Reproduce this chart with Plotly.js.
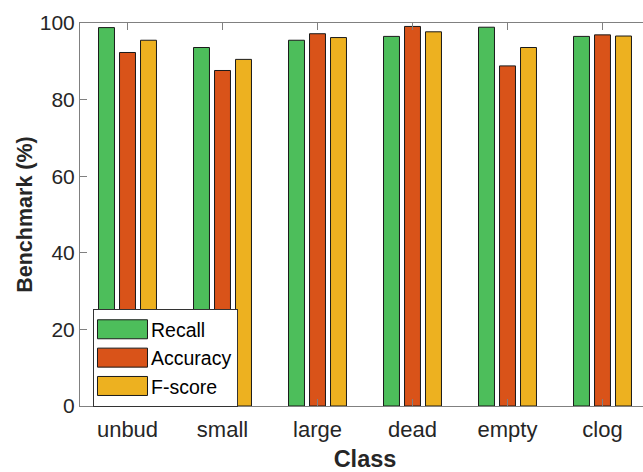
<!DOCTYPE html>
<html><head><meta charset="utf-8">
<script src="https://cdn.plot.ly/plotly-3.0.1.min.js"></script>
<style>html,body{margin:0;padding:0;overflow:hidden;background:#fff;width:643px;height:472px}</style>
</head><body><div id="chart"></div>
<script>
const categories = ["unbud", "small", "large", "dead", "empty", "clog"];
const recall   = [98.8, 93.6, 95.5, 96.5, 98.9, 96.5];
const accuracy = [92.3, 87.6, 97.2, 99.1, 88.8, 96.9];
const fscore   = [95.5, 90.5, 96.2, 97.7, 93.6, 96.6];
const seriesNames = ["Recall", "Accuracy", "F-score"];
const yTicks = [0, 20, 40, 60, 80, 100];

const colors = ["#4dbe5b", "#d95319", "#edb120"];
const vals = [recall, accuracy, fscore];
const xs = categories.map((c, i) => i + 1);
const traces = vals.map((v, k) => ({
  type: "bar", x: xs, y: v, name: seriesNames[k],
  marker: {color: colors[k], line: {color: "#1a1a1a", width: 1}}
}));
const fam = "Liberation Sans, Arial, sans-serif";
const layout = {
  width: 655, height: 472,
  margin: {l: 80, r: 5, t: 23, b: 66},
  paper_bgcolor: "#fff", plot_bgcolor: "#fff",
  font: {family: fam, size: 20, color: "#262626"},
  barmode: "group", bargap: 0.337, bargroupgap: 0.24,
  showlegend: true,
  legend: {x: 0.0228, y: 0.253, xanchor: "left", yanchor: "top",
    bgcolor: "#fff", bordercolor: "#333", borderwidth: 1, itemwidth: 47,
    font: {family: fam, size: 19.5, color: "#000"}, tracegroupgap: 0},
  xaxis: {range: [0.5, 6.5], tickmode: "array", tickvals: xs, ticktext: categories,
    tickfont: {family: fam, size: 22, color: "#262626"}, ticklabelstandoff: 4,
    showgrid: false, zeroline: false, showline: true, linecolor: "#808080", linewidth: 1,
    ticks: "inside", ticklen: 7, tickcolor: "#808080", mirror: "ticks",
    title: {text: "<b>Class</b>", font: {family: fam, size: 23.5, color: "#262626"}, standoff: 16}},
  yaxis: {range: [0, 100], tickmode: "array", tickvals: yTicks,
    tickfont: {family: fam, size: 21, color: "#262626"},
    showgrid: false, zeroline: false, showline: true, linecolor: "#808080", linewidth: 1,
    ticks: "inside", ticklen: 7, tickcolor: "#808080", mirror: "ticks",
    title: {text: "<b>Benchmark (%)</b>", font: {family: fam, size: 21.5, color: "#262626"}, standoff: 1}}
};
Plotly.newPlot("chart", traces, layout, {displayModeBar: false, staticPlot: true}).then(function () {
  // widen legend swatches like the original figure
  document.querySelectorAll("#chart .legend .legendpoints path").forEach(function (p) {
    p.setAttribute("d", "M25,9.5H-25V-9.5H25Z");
  });
});
</script></body></html>
